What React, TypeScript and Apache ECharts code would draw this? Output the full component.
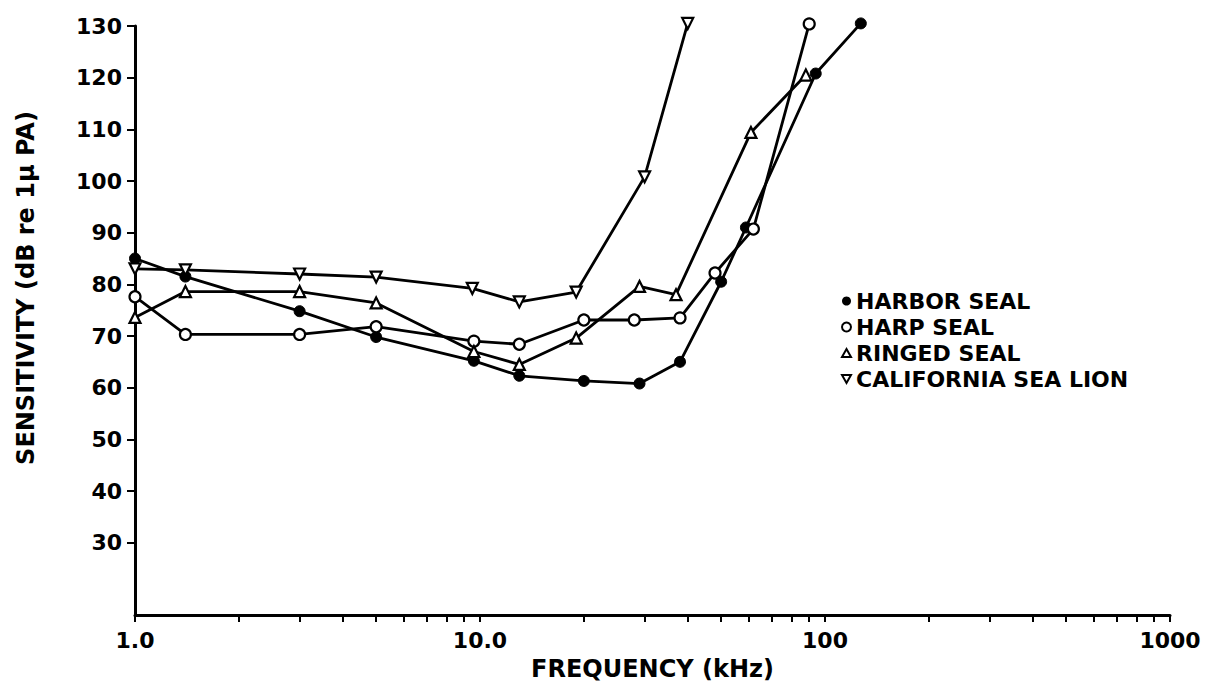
import React, { useEffect, useRef } from "react";
import * as echarts from "echarts";

const seriesNames = ["HARBOR SEAL", "HARP SEAL", "RINGED SEAL", "CALIFORNIA SEA LION"];

const harborFreq = [1.0, 1.4, 3.0, 5.0, 9.6, 13, 20, 29, 38, 50, 59, 94, 127];
const harborDb = [85, 81.5, 74.8, 69.8, 65.2, 62.3, 61.3, 60.8, 65, 80.5, 91, 120.8, 130.5];

const harpFreq = [1.0, 1.4, 3.0, 5.0, 9.6, 13, 20, 28, 38, 48, 62, 90];
const harpDb = [77.6, 70.3, 70.3, 71.8, 69, 68.4, 73.1, 73.1, 73.5, 82.2, 90.7, 130.4];

const ringedFreq = [1.0, 1.4, 3.0, 5.0, 9.6, 13, 19, 29, 37, 61, 88];
const ringedDb = [73.6, 78.6, 78.6, 76.4, 67, 64.5, 69.6, 79.6, 78, 109.4, 120.5];

const seaLionFreq = [1.0, 1.4, 3.0, 5.0, 9.5, 13, 19, 30, 40];
const seaLionDb = [83, 82.8, 82, 81.4, 79.2, 76.6, 78.5, 100.8, 130.5];

const xLabelValues = [1, 10, 100, 1000];
const xTickValues = [
  1, 2, 3, 4, 5, 6, 7, 8, 9, 10, 20, 30, 40, 50, 60, 70, 80, 90, 100, 200, 300, 400, 500, 600,
  700, 800, 900, 1000,
];
const yTickValues = [30, 40, 50, 60, 70, 80, 90, 100, 110, 120, 130];

const yTitle = "SENSITIVITY (dB re 1μ PA)";
const xTitle = "FREQUENCY (kHz)";

const FONT = "DejaVu Sans";

function pairs(xs: number[], ys: number[]) {
  return xs.map((x, i) => [x, ys[i]]);
}

export default function App() {
  const ref = useRef<HTMLDivElement>(null);
  useEffect(() => {
    if (!ref.current) return;
    const chart = echarts.init(ref.current, undefined, { renderer: "svg" });
    const lineStyle = { color: "#000", width: 2.8 };
    const openItem = { color: "#fff", borderColor: "#000", borderWidth: 2.2 };
    const filledItem = { color: "#000", borderColor: "#000", borderWidth: 1 };
    const base = {
      type: "line",
      clip: false,
      lineStyle,
      symbolSize: 11,
      z: 3,
    };
    const openLegend = { color: "#fff", borderColor: "#000", borderWidth: 2 };
    chart.setOption({
      animation: false,
      backgroundColor: "#fff",
      grid: { left: 135, right: 51, top: 26, bottom: 64, containLabel: false },
      legend: {
        orient: "vertical",
        left: 836,
        top: 285,
        itemGap: 4,
        itemWidth: 9,
        itemHeight: 9,
        textStyle: { fontFamily: FONT, fontWeight: "bold", fontSize: 22, lineHeight: 21, color: "#000" },
        data: [
          { name: seriesNames[0], icon: "circle", itemStyle: { color: "#000", borderWidth: 0 } },
          { name: seriesNames[1], icon: "circle", itemStyle: openLegend },
          { name: seriesNames[2], icon: "path://M5,0 L10,9 L0,9 Z", itemStyle: openLegend },
          { name: seriesNames[3], icon: "path://M0,0 L10,0 L5,9 Z", itemStyle: openLegend },
        ],
      },
      graphic: [
        {
          type: "text",
          x: 26,
          y: 288,
          rotation: Math.PI / 2,
          style: {
            text: yTitle,
            fontFamily: FONT,
            fontWeight: "bold",
            fontSize: 24,
            fill: "#000",
            align: "center",
            verticalAlign: "middle",
          },
        },
      ],
      xAxis: {
        type: "log",
        logBase: 10,
        min: 1,
        max: 1000,
        name: xTitle,
        nameLocation: "middle",
        nameGap: 42,
        nameTextStyle: { fontFamily: FONT, fontWeight: "bold", fontSize: 24, color: "#000" },
        axisLine: { lineStyle: { color: "#000", width: 3 } },
        axisTick: { inside: false, length: 7, lineStyle: { color: "#000", width: 2 }, customValues: xTickValues },
        axisLabel: {
          customValues: xLabelValues,
          margin: 14,
          fontFamily: FONT,
          fontWeight: "bold",
          fontSize: 22,
          color: "#000",
          formatter: (v: number) => (v === 1 ? "1.0" : v === 10 ? "10.0" : String(v)),
        },
        splitLine: { show: false },
        minorTick: { show: false },
      },
      yAxis: {
        type: "value",
        min: 16,
        max: 130,
        axisLine: { show: true, lineStyle: { color: "#000", width: 3 } },
        axisTick: { show: true, inside: false, length: 8, lineStyle: { color: "#000", width: 2 }, customValues: yTickValues },
        axisLabel: {
          customValues: yTickValues,
          margin: 13,
          fontFamily: FONT,
          fontWeight: "bold",
          fontSize: 22,
          color: "#000",
        },
        splitLine: { show: false },
      },
      series: [
        { ...base, name: seriesNames[0], symbol: "circle", itemStyle: filledItem, data: pairs(harborFreq, harborDb) },
        { ...base, name: seriesNames[1], symbol: "circle", itemStyle: openItem, data: pairs(harpFreq, harpDb) },
        { ...base, name: seriesNames[2], symbol: "triangle", itemStyle: openItem, data: pairs(ringedFreq, ringedDb) },
        {
          ...base,
          name: seriesNames[3],
          symbol: "triangle",
          symbolRotate: 180,
          itemStyle: openItem,
          data: pairs(seaLionFreq, seaLionDb),
        },
      ],
    });
    return () => chart.dispose();
  }, []);
  return (
    <div
      ref={ref}
      style={{ position: "fixed", left: 0, top: 0, width: 1221, height: 686, background: "#fff" }}
    />
  );
}
